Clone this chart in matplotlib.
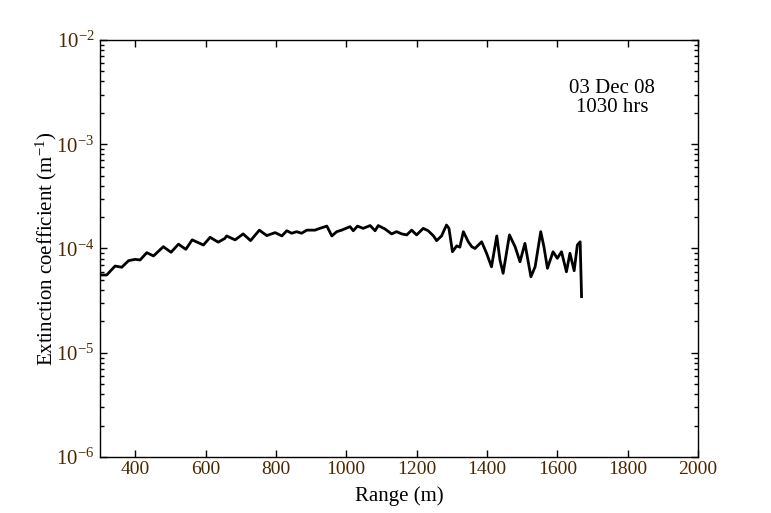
import matplotlib.pyplot as plt
from matplotlib.ticker import LogLocator, NullFormatter, MultipleLocator

# range (m) and extinction coefficient (1/m)
rng = [303, 319, 343, 362, 381, 400, 414, 433, 452, 480, 502, 523, 544, 562,
       594, 613, 636, 655, 660, 684, 707, 728, 753, 774, 798, 817, 831, 845,
       859, 873, 888, 911, 925, 945, 959, 973, 987, 1011, 1020, 1032, 1048,
       1068, 1082, 1091, 1110, 1129, 1143, 1158, 1172, 1186, 1200, 1219, 1233,
       1248, 1257, 1271, 1285, 1292, 1302, 1314, 1323, 1333, 1347, 1357, 1366,
       1385, 1399, 1413, 1428, 1437, 1446, 1464, 1480, 1494, 1508, 1525, 1537,
       1553, 1562, 1572, 1588, 1600, 1612, 1626, 1636, 1648, 1657, 1665, 1669]
ext = [5.57e-5, 5.57e-5, 6.79e-5, 6.61e-5, 7.64e-5, 7.87e-5, 7.76e-5, 9.12e-5,
       8.48e-5, 1.04e-4, 9.20e-5, 1.10e-4, 9.82e-5, 1.21e-4, 1.08e-4, 1.28e-4,
       1.15e-4, 1.25e-4, 1.32e-4, 1.21e-4, 1.38e-4, 1.19e-4, 1.50e-4, 1.33e-4,
       1.42e-4, 1.32e-4, 1.48e-4, 1.40e-4, 1.45e-4, 1.40e-4, 1.50e-4, 1.50e-4,
       1.56e-4, 1.64e-4, 1.32e-4, 1.45e-4, 1.50e-4, 1.62e-4, 1.48e-4, 1.64e-4,
       1.56e-4, 1.66e-4, 1.48e-4, 1.66e-4, 1.54e-4, 1.38e-4, 1.45e-4, 1.38e-4,
       1.35e-4, 1.50e-4, 1.35e-4, 1.56e-4, 1.48e-4, 1.32e-4, 1.19e-4, 1.32e-4,
       1.68e-4, 1.56e-4, 9.31e-5, 1.06e-4, 1.03e-4, 1.45e-4, 1.16e-4, 1.04e-4,
       1.00e-4, 1.16e-4, 9.0e-5, 6.68e-5, 1.32e-4, 7.76e-5, 5.78e-5, 1.35e-4,
       1.04e-4, 7.46e-5, 1.12e-4, 5.36e-5, 6.68e-5, 1.45e-4, 1.04e-4, 6.46e-5,
       9.31e-5, 8.05e-5, 9.31e-5, 5.98e-5, 9.0e-5, 6.12e-5, 1.08e-4, 1.16e-4,
       3.45e-5]

plt.rcParams['font.family'] = 'Liberation Serif'
plt.rcParams['mathtext.fontset'] = 'custom'
plt.rcParams['mathtext.rm'] = 'Liberation Serif'
plt.rcParams['mathtext.it'] = 'Liberation Serif'

fig = plt.figure(figsize=(7.71, 5.13), dpi=100)
ax = fig.add_axes([0.1297, 0.1092, 0.7756, 0.8128])

ax.plot(rng, ext, color='black', lw=2)

ax.set_yscale('log')
ax.set_xlim(300, 2000)
ax.set_ylim(1e-6, 1e-2)
ax.xaxis.set_major_locator(MultipleLocator(200))
ax.yaxis.set_major_locator(LogLocator(base=10, numticks=10))
ax.yaxis.set_minor_locator(LogLocator(base=10, subs=range(2, 10), numticks=20))
ax.yaxis.set_minor_formatter(NullFormatter())

labcol = '#4a2800'
ax.tick_params(which='both', direction='in', top=True, right=True,
               labelsize=14, labelcolor=labcol, width=1)
ax.tick_params(which='major', length=5)
ax.tick_params(which='minor', length=3)
ax.tick_params(axis='x', pad=3)
ax.tick_params(axis='y', pad=4, labelsize=15)
for s in ax.spines.values():
    s.set_linewidth(1)

ax.set_xlabel('Range (m)', fontsize=15, labelpad=6)
ax.set_ylabel('Extinction coefficient (m$^{-1}$)', fontsize=15)
ax.yaxis.set_label_coords(-0.068, 0.5)

ax.text(0.856, 0.861, '03 Dec 08\n1030 hrs', transform=ax.transAxes,
        ha='center', va='center', fontsize=15, linespacing=1.05)

fig.savefig('out.png', dpi=100, facecolor='white')
